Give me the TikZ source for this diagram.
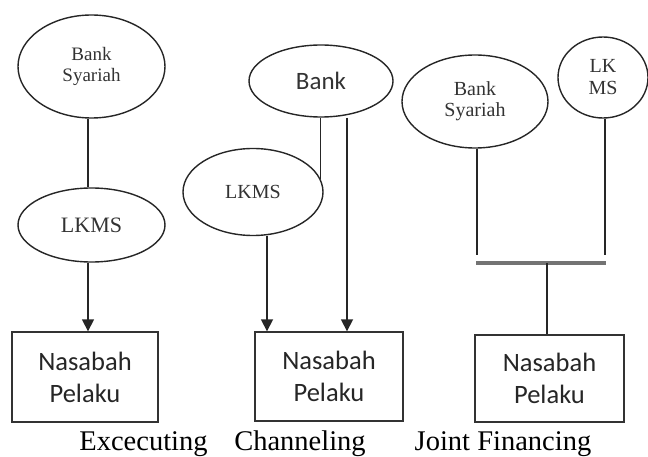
\documentclass[tikz,border=0pt]{standalone}
\usepackage{fontspec}
\setmainfont{Liberation Serif}
\newfontfamily\boxfont{Carlito}
\usetikzlibrary{shapes.geometric,arrows.meta}
\begin{document}
\begin{tikzpicture}[x=1pt,y=-1pt,
  oval/.style={draw=black!85,line width=1.4pt,ellipse,inner sep=0pt,align=center,text=black!80},
  pbox/.style={draw=black!80,line width=1.4pt,rectangle,inner sep=0pt,align=center,font=\boxfont\fontsize{26.5}{32}\selectfont,text=black!85},
  conn/.style={line width=1.7pt,draw=black!85},
  arr/.style={conn,-{Triangle[width=12pt,length=12pt]}},
  bar/.style={line width=3pt,draw=black!55},
  caption/.style={anchor=base,font=\fontsize{28.5}{30}\selectfont}]
\useasboundingbox (0,0) rectangle (648,457);
% Excecuting
\node[oval,minimum width=147,minimum height=103,font=\fontsize{19}{21}\selectfont] (bs1) at (91.5,66.5) {Bank\\Syariah};
\node[oval,minimum width=147,minimum height=74,font=\fontsize{22}{24}\selectfont] (lk1) at (91.5,225) {LKMS};
\node[pbox,minimum width=146,minimum height=90] (nb1) at (85,377) {Nasabah\\Pelaku};
\draw[conn] ([xshift=-3.5pt]bs1.south) -- ([xshift=-3.5pt]lk1.north);
\draw[arr] ([xshift=-3.5pt]lk1.south) -- ([xshift=-3.5pt]lk1.south |- nb1.north);
% Channeling
\node[oval,minimum width=144,minimum height=72,font=\boxfont\fontsize{25}{28}\selectfont] (bk) at (321,81) {Bank};
\node[oval,minimum width=140,minimum height=87,font=\fontsize{20}{22}\selectfont] (lk2) at (253,192) {LKMS};
\node[pbox,minimum width=148,minimum height=89] (nb2) at (329,376.5) {Nasabah\\Pelaku};
\draw[conn] (lk2.11 |- bk.south) -- (lk2.11);
\draw[arr] ([xshift=26pt]bk.south) -- ([xshift=26pt]bk.south |- nb2.north);
\draw[arr] ([xshift=14pt]lk2.south) -- ([xshift=14pt]lk2.south |- nb2.north);
% Joint Financing
\node[oval,minimum width=146,minimum height=93,font=\fontsize{20}{21}\selectfont] (bs3) at (475,101.5) {Bank\\Syariah};
\node[oval,minimum width=90,minimum height=81,font=\fontsize{20}{22}\selectfont] (lkms3) at (603,77.5) {LK\\MS};
\node[pbox,minimum width=149,minimum height=87] (nb3) at (549.5,378.5) {Nasabah\\Pelaku};
\coordinate (jl) at (477,255);
\coordinate (jr) at (605,255);
\coordinate (bl) at (476,263);
\coordinate (br) at (606,263);
\coordinate (jm) at (547,263);
\draw[conn] (bs3.south -| jl) -- (jl);
\draw[conn] (lkms3.south -| jr) -- (jr);
\draw[bar] (bl) -- (br);
\draw[conn] (jm) -- (jm |- nb3.north);
% captions
\node[caption] (c1) at (143.5,450) {Excecuting};
\node[caption] (c2) at (300,450) {Channeling};
\node[caption] (c3) at (503,450) {Joint Financing};
\end{tikzpicture}
\end{document}
